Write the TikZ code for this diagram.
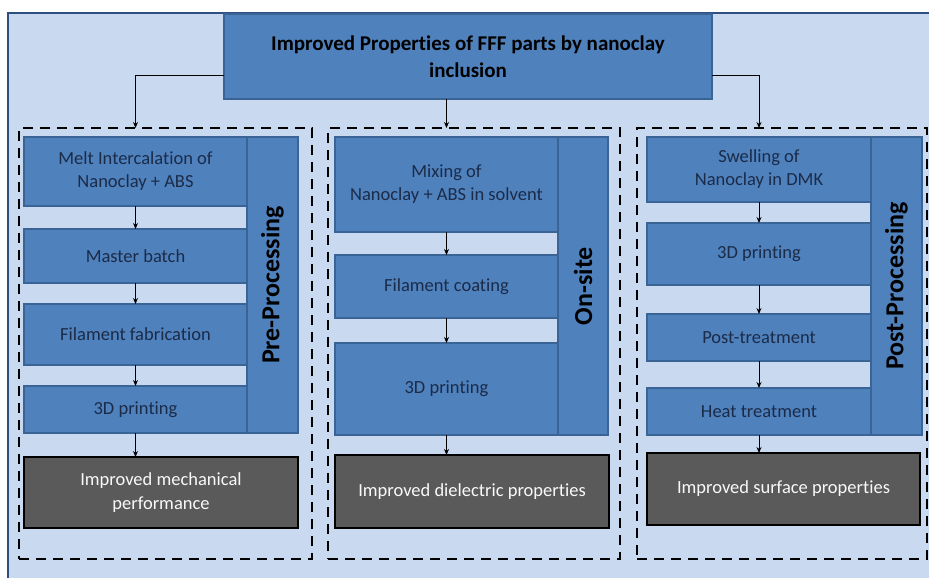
\documentclass[tikz,border=0pt]{standalone}
\usepackage{fontspec}
\setmainfont{Carlito}[Ligatures=NoCommon]
\usetikzlibrary{arrows.meta,calc}
\definecolor{bgblue}{HTML}{C8D9F0}
\definecolor{frameblue}{HTML}{2F4F80}
\definecolor{boxblue}{HTML}{4F81BD}
\definecolor{boxedge}{HTML}{3A6396}
\definecolor{navytext}{HTML}{1B2B48}
\definecolor{darkbox}{HTML}{5A5A5A}
\tikzset{
  blk/.style={draw=boxedge, fill=boxblue, line width=1.3pt, inner sep=2pt, outer sep=0pt,
    align=center, text=navytext, font=\fontsize{18.5}{23}\selectfont},
  sidebox/.style={draw=boxedge, fill=boxblue, line width=1.3pt, inner sep=0pt, outer sep=0pt,
    rotate=90, font=\fontsize{26}{30}\selectfont\bfseries, text=black},
  resbox/.style={draw=black, fill=darkbox, line width=2pt, inner sep=2pt, outer sep=0pt,
    align=center, text=white!95!gray, font=\fontsize{18.5}{24}\selectfont},
  titlebox/.style={draw=boxedge, fill=boxblue, line width=1.3pt, inner sep=2pt, outer sep=0pt,
    align=center, text=black, font=\fontsize{21}{27}\selectfont\bfseries},
  dbox/.style={draw=black, dash pattern=on 10pt off 7pt, line width=2.4pt, inner sep=0pt, outer sep=0pt},
  arr/.style={draw=black, line width=0.9pt, -{Stealth[length=6pt,width=5pt]}}
}
\begin{document}
\begin{tikzpicture}[x=1pt,y=-1pt]
\useasboundingbox (0,0) rectangle (929,578);
\fill[white] (0,0) rectangle (929,578);
\filldraw[fill=bgblue, draw=frameblue, line width=2pt] (8,13) rectangle (940,590);

% dashed groups
\node[dbox, minimum width=293pt, minimum height=431pt] (DL) at (165.5,343.5) {};
\node[dbox, minimum width=292pt, minimum height=431pt] (DM) at (474,343.5) {};
\node[dbox, minimum width=290pt, minimum height=431pt] (DR) at (782,343.5) {};

% title
\node[titlebox, minimum width=488pt, minimum height=85pt] (T) at (468,56.5)
  {Improved Properties of FFF parts by nanoclay\\inclusion};

% left column
\node[sidebox, minimum width=296pt, minimum height=51pt] (Ls) at (272.5,285) {Pre-Processing};
\node[blk, minimum width=223pt, minimum height=69pt] (L1) at (135.5,171.5) {Melt Intercalation of\\Nanoclay + ABS};
\node[blk, minimum width=223pt, minimum height=54pt] (L2) at (135.5,256) {Master batch};
\node[blk, minimum width=223pt, minimum height=61pt] (L3) at (135.5,334.5) {Filament fabrication};
\node[blk, minimum width=223pt, minimum height=47pt] (L4) at (135.5,409.5) {3D printing};
\node[resbox, minimum width=274pt, minimum height=71pt] (Lr) at (161,492.5) {Improved mechanical\\performance};

% middle column
\node[sidebox, minimum width=298pt, minimum height=50pt] (Ms) at (583,286) {On-site};
\node[blk, minimum width=223pt, minimum height=95pt] (M1) at (446.5,184.5) {Mixing of\\Nanoclay + ABS in solvent};
\node[blk, minimum width=223pt, minimum height=63pt] (M2) at (446.5,286.5) {Filament coating};
\node[blk, minimum width=223pt, minimum height=92pt] (M3) at (446.5,389) {3D printing};
\node[resbox, minimum width=274pt, minimum height=73pt] (Mr) at (472,491.5) {Improved dielectric properties};

% right column
\node[sidebox, minimum width=298pt, minimum height=51pt] (Rs) at (896.5,286) {Post-Processing};
\node[blk, minimum width=224pt, minimum height=65pt] (R1) at (759,169.5) {Swelling of\\Nanoclay in DMK};
\node[blk, minimum width=224pt, minimum height=62pt] (R2) at (759,254) {3D printing};
\node[blk, minimum width=224pt, minimum height=47pt] (R3) at (759,337.5) {Post-treatment};
\node[blk, minimum width=224pt, minimum height=47pt] (R4) at (759,411.5) {Heat treatment};
\node[resbox, minimum width=273pt, minimum height=72pt] (Rr) at (783.5,489) {Improved surface properties};

% arrows from title
\draw[arr] ([yshift=24pt]T.south west) -| (L1.north |- DL.north);
\draw[arr] (M1.north |- T.south) -- (M1.north |- DM.north);
\draw[arr] ([yshift=24pt]T.south east) -| (R1.north |- DR.north);

% column arrows
\draw[arr] (L1) -- (L2);
\draw[arr] (L2) -- (L3);
\draw[arr] (L3) -- (L4);
\draw[arr] (L4.south) -- (L4.south |- Lr.north);
\draw[arr] (M1) -- (M2);
\draw[arr] (M2) -- (M3);
\draw[arr] (M3.south) -- (M3.south |- Mr.north);
\draw[arr] (R1) -- (R2);
\draw[arr] (R2) -- (R3);
\draw[arr] (R3) -- (R4);
\draw[arr] (R4.south) -- (R4.south |- Rr.north);
\end{tikzpicture}
\end{document}
